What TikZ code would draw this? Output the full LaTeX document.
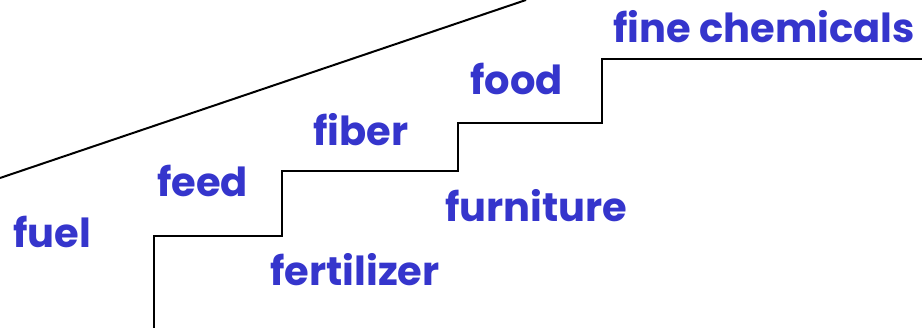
\documentclass[tikz,border=0pt]{standalone}
\usepackage{fontspec}
\setmainfont{Poppins}
\definecolor{lblue}{HTML}{3535CC}
\begin{document}
\begin{tikzpicture}[x=1pt,y=-1pt,
  lbl/.style={anchor=base west,inner sep=0pt,text=lblue,font=\fontsize{40}{40}\selectfont\bfseries},
  line/.style={draw=black,line width=2pt}]
\useasboundingbox (0,0) rectangle (922,328);
\coordinate (d0) at (0,178);
\coordinate (d1) at (526,0);
\draw[line] (d0) -- (d1);
\coordinate (s0) at (154,330);
\coordinate (s1) at (154,236);
\coordinate (s2) at (282,236);
\coordinate (s3) at (282,171);
\coordinate (s4) at (458,171);
\coordinate (s5) at (458,123);
\coordinate (s6) at (602,123);
\coordinate (s7) at (602,59);
\coordinate (s8) at (924,59);
\draw[line] (s0) -- (s1) -- (s2) -- (s3) -- (s4) -- (s5) -- (s6) -- (s7) -- (s8);
\node[lbl] (fuel) at (13,248) {fuel};
\node[lbl] (feed) at (157,197) {feed};
\node[lbl] (fert) at (270,286) {fertilizer};
\node[lbl] (furn) at (445,222) {furniture};
\node[lbl] (fiber) at (313,146) {fiber};
\node[lbl] (food) at (470,95) {food};
\node[lbl] (fine) at (613,43) {fine chemicals};
\end{tikzpicture}
\end{document}
